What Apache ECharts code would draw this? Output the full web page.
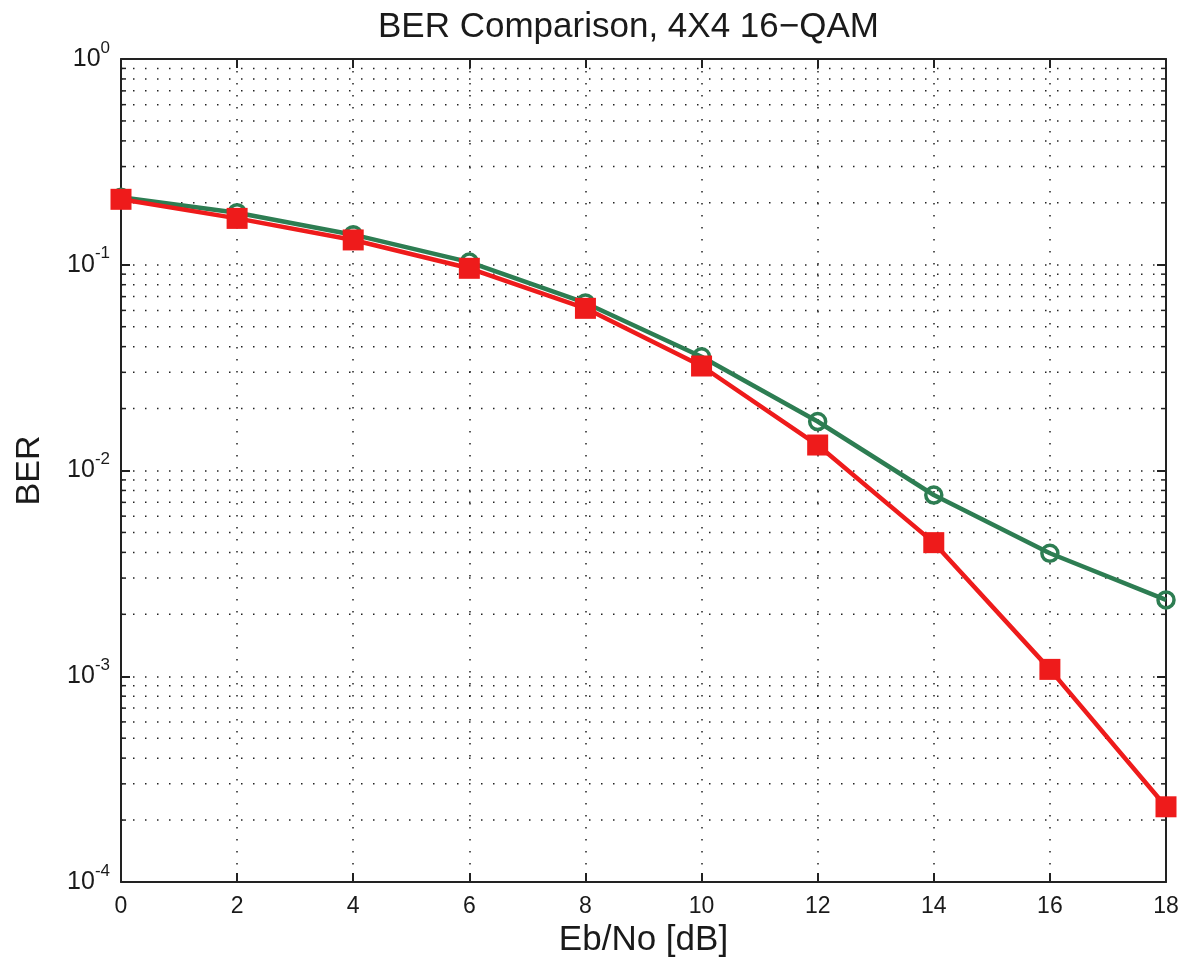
<!DOCTYPE html>
<html>
<head>
<meta charset="utf-8">
<script src="https://cdn.jsdelivr.net/npm/echarts@6/dist/echarts.min.js"></script>
<style>
html,body{margin:0;padding:0;background:#fff;}
#chart{width:1183px;height:963px;}
</style>
</head>
<body>
<div id="chart"></div>
<script>
// ---- data ----
const ebno = [0, 2, 4, 6, 8, 10, 12, 14, 16, 18];
const berGreen = [0.213, 0.179, 0.140, 0.103, 0.0652, 0.0357, 0.0173, 0.0076, 0.00396, 0.00235];
const berRed = [0.208, 0.168, 0.132, 0.0961, 0.0614, 0.0322, 0.0133, 0.00446, 0.00108, 0.000232];
const xTicks = [0, 2, 4, 6, 8, 10, 12, 14, 16, 18];
const decades = [1e-4, 1e-3, 1e-2, 1e-1];
const mantissas = [2, 3, 4, 5, 6, 7, 8, 9];
const titleText = 'BER Comparison, 4X4 16\u2212QAM';
const xName = 'Eb/No [dB]';
const yName = 'BER';

const FONT = '"Liberation Sans", Arial, Helvetica, sans-serif';
const TXT = '#1a1a1a';
const dotted = {color: '#222', width: 1.5, type: [1.5, 10.5]};

const minorVals = [];
decades.forEach(d => mantissas.forEach(m => minorVals.push([0, +(d * m).toPrecision(3)])));

const chart = echarts.init(document.getElementById('chart'), null, {renderer: 'canvas'});

function minorRender(params, api) {
  const y = api.value(1);
  const p0 = api.coord([xTicks[0], y]);
  const p1 = api.coord([xTicks[xTicks.length - 1], y]);
  return {
    type: 'group',
    children: [
      {type: 'line', shape: {x1: p0[0], y1: p0[1], x2: p1[0], y2: p1[1]},
       style: {stroke: '#222', lineWidth: 1.5, lineDash: [1.5, 10.5]}},
      {type: 'line', shape: {x1: p0[0], y1: p0[1], x2: p0[0] + 5, y2: p0[1]},
       style: {stroke: '#222', lineWidth: 1.5}},
      {type: 'line', shape: {x1: p1[0] - 5, y1: p1[1], x2: p1[0], y2: p1[1]},
       style: {stroke: '#222', lineWidth: 1.5}}
    ]
  };
}

const option = {
  backgroundColor: '#fff',
  animation: false,
  title: {
    text: titleText,
    left: 373,
    top: 5,
    textStyle: {fontFamily: FONT, fontSize: 35, fontWeight: 'normal', color: TXT}
  },
  grid: {left: 121, right: 17, top: 59, bottom: 81, containLabel: false},
  xAxis: [{
    type: 'value', min: 0, max: 18, interval: 2,
    name: xName, nameLocation: 'middle', nameGap: 33,
    nameTextStyle: {fontFamily: FONT, fontSize: 35, color: TXT},
    axisLine: {show: true, onZero: false, lineStyle: {color: '#222', width: 2}},
    axisTick: {show: true, inside: true, length: 9, lineStyle: {color: '#222', width: 2}},
    axisLabel: {fontFamily: FONT, fontSize: 23, color: TXT, margin: 13},
    splitLine: {show: true, lineStyle: dotted}
  }, {
    type: 'value', min: 0, max: 18, interval: 2, position: 'top',
    axisLine: {show: true, onZero: false, lineStyle: {color: '#222', width: 2}},
    axisTick: {show: true, inside: true, length: 9, lineStyle: {color: '#222', width: 2}},
    axisLabel: {show: false},
    splitLine: {show: false}
  }],
  yAxis: [{
    type: 'log', logBase: 10, min: 1e-4, max: 1, splitNumber: 4,
    name: yName, nameLocation: 'middle', nameGap: 74, nameRotate: 90,
    nameTextStyle: {fontFamily: FONT, fontSize: 34, color: TXT},
    axisLine: {show: true, onZero: false, lineStyle: {color: '#222', width: 2}},
    axisTick: {show: true, inside: true, length: 9, lineStyle: {color: '#222', width: 2}},
    axisLabel: {
      margin: 11,
      formatter: function (v) {
        const e = Math.round(Math.log10(v));
        return '{b|10}{s|' + (e === 0 ? '0' : String(e)) + '}';
      },
      rich: {
        b: {fontFamily: FONT, fontSize: 25, lineHeight: 39, color: TXT, verticalAlign: 'middle'},
        s: {fontFamily: FONT, fontSize: 17, lineHeight: 17, color: TXT, verticalAlign: 'top'}
      }
    },
    splitLine: {show: true, lineStyle: dotted}
  }, {
    type: 'log', logBase: 10, min: 1e-4, max: 1, splitNumber: 4, position: 'right',
    axisLine: {show: true, onZero: false, lineStyle: {color: '#222', width: 2}},
    axisTick: {show: true, inside: true, length: 9, lineStyle: {color: '#222', width: 2}},
    axisLabel: {show: false},
    splitLine: {show: false}
  }],
  series: [{
    type: 'custom',
    name: 'minorGrid',
    silent: true,
    xAxisIndex: 0, yAxisIndex: 0,
    renderItem: minorRender,
    data: minorVals,
    z: 1
  }, {
    type: 'line',
    name: 'green',
    data: ebno.map((x, i) => [x, berGreen[i]]),
    xAxisIndex: 0, yAxisIndex: 0,
    symbol: 'circle', symbolSize: 16,
    lineStyle: {color: '#2d7d52', width: 4.5},
    itemStyle: {color: 'rgba(0,0,0,0)', borderColor: '#2d7d52', borderWidth: 3.5},
    z: 3
  }, {
    type: 'line',
    name: 'red',
    data: ebno.map((x, i) => [x, berRed[i]]),
    xAxisIndex: 0, yAxisIndex: 0,
    symbol: 'rect', symbolSize: 21,
    lineStyle: {color: '#ee1b1b', width: 4.5},
    itemStyle: {color: '#ee1b1b', borderWidth: 0},
    z: 4
  }]
};
chart.setOption(option);
</script>
</body>
</html>
